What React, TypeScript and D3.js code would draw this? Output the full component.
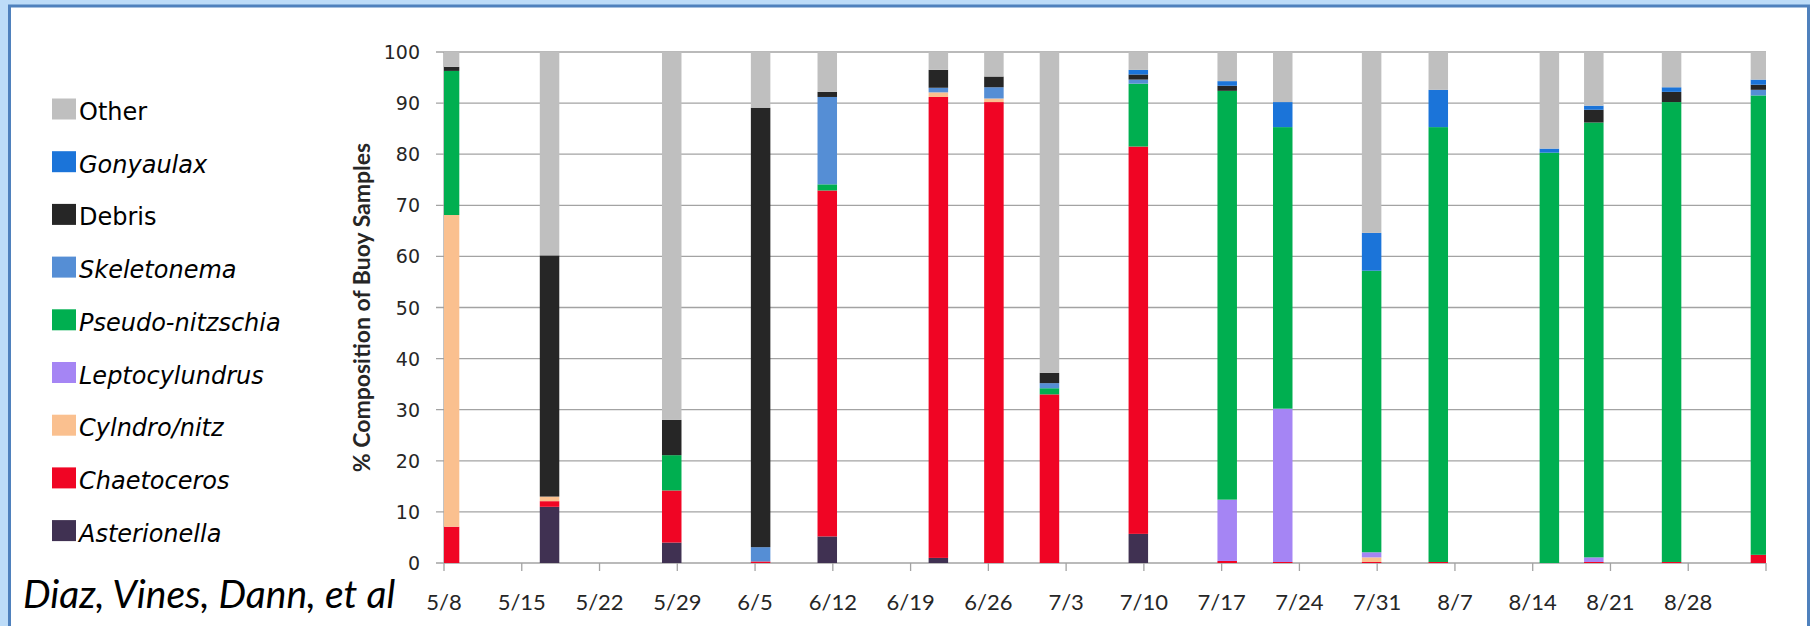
import React, { useEffect, useRef } from 'react';
import * as d3 from 'd3';

// ---- data ----
const sampleDates = ['5/8','5/17','5/28','6/5','6/11','6/21','6/26','7/1','7/9','7/17','7/22','7/30','8/5','8/15','8/19','8/26','9/3'];

const asterionella   = [0, 11, 4, 0, 5.2, 1, 0, 0, 5.7, 0, 0, 0, 0, 0, 0, 0, 0];
const chaetoceros    = [7.1, 1.1, 10.2, 0.3, 67.7, 90.2, 90.2, 33, 75.8, 0.4, 0.2, 0.2, 0.2, 0, 0.2, 0.2, 1.6];
const cylindroNitz   = [61, 0.9, 0, 0, 0, 0.9, 0.7, 0, 0, 0, 0, 0.9, 0, 0, 0, 0, 0];
const leptocylundrus = [0, 0, 0, 0, 0, 0, 0, 0, 0, 12.0, 30, 1.0, 0, 0, 0.9, 0, 0];
const pseudoNitzschia= [28.2, 0, 6.9, 0, 1.2, 0, 0, 1.2, 12.3, 80, 55.1, 55.1, 85.1, 80.3, 85.1, 90, 89.9];
const skeletonema    = [0, 0, 0, 2.8, 17.1, 0.9, 2.2, 1.0, 0.8, 0, 0, 0, 0, 0, 0, 0, 1.1];
const debris         = [0.8, 47.2, 6.9, 86, 1.0, 3.5, 2.1, 2.0, 1.0, 1.0, 0, 0, 0, 0, 2.5, 2.0, 1.0];
const gonyaulax      = [0, 0, 0, 0, 0, 0, 0, 0, 0.9, 0.9, 4.9, 7.4, 7.3, 0.8, 0.8, 0.9, 1.0];
const other          = [2.9, 39.8, 72, 10.9, 7.8, 3.5, 4.8, 62.8, 3.5, 5.7, 9.8, 35.4, 7.4, 18.9, 10.5, 6.9, 5.4];

const seriesNames = ['Asterionella','Chaetoceros','Cylndro/nitz','Leptocylundrus','Pseudo-nitzschia','Skeletonema','Debris','Gonyaulax','Other'];
const seriesValues = [asterionella, chaetoceros, cylindroNitz, leptocylundrus, pseudoNitzschia, skeletonema, debris, gonyaulax, other];
const seriesColors = ['#403152','#F00524','#FAC08F','#A585F4','#00AF50','#558ED5','#262626','#1B74D9','#BFBFBF'];
const italicSeries = [true, true, true, true, true, true, false, true, false];

const xTickLabels = ['5/8','5/15','5/22','5/29','6/5','6/12','6/19','6/26','7/3','7/10','7/17','7/24','7/31','8/7','8/14','8/21','8/28','9/4'];
const xLabelShown = xTickLabels.slice(0, 17);
const yTicks = [0, 10, 20, 30, 40, 50, 60, 70, 80, 90, 100];

const yearStr = '2012';
const parseD = d3.timeParse('%m/%d/%Y');
const toDate = (s: string) => parseD(s + '/' + yearStr) as Date;

export default function App() {
  const ref = useRef<SVGSVGElement | null>(null);

  useEffect(() => {
    const svg = d3.select(ref.current);
    svg.selectAll('*').remove();
    const W = 1810, H = 626;

    // frame
    svg.append('rect').attr('x', 0).attr('y', 0).attr('width', W).attr('height', H).attr('fill', '#BDDCF8');
    svg.append('rect').attr('x', 9.5).attr('y', 6).attr('width', 1799).attr('height', 700)
      .attr('fill', '#FFFFFF').attr('stroke', '#4F81BD').attr('stroke-width', 3);

    const left = 444, right = 1766, top = 52, bottom = 563;
    const x = d3.scaleTime().domain([toDate('5/8'), toDate('9/4')]).range([left, right]);
    const y = d3.scaleLinear().domain([0, 100]).range([bottom, top]);
    const dayPx = x(toDate('5/9')) - x(toDate('5/8'));
    const barW = 19.5;

    // gridlines
    const g = svg.append('g');
    g.selectAll('line.grid').data(yTicks).enter().append('line')
      .attr('x1', left - 8).attr('x2', right)
      .attr('y1', d => y(d)).attr('y2', d => y(d))
      .attr('stroke', '#A3A3A3').attr('stroke-width', 1.3);
    // y axis line
    g.append('line').attr('x1', left).attr('x2', left).attr('y1', y(100)).attr('y2', y(0))
      .attr('stroke', '#A3A3A3').attr('stroke-width', 1.3);

    // x axis ticks
    const tickDates = xTickLabels.map(toDate);
    g.selectAll('line.xt').data(tickDates).enter().append('line')
      .attr('x1', d => x(d)).attr('x2', d => x(d))
      .attr('y1', bottom).attr('y2', bottom + 8)
      .attr('stroke', '#A3A3A3').attr('stroke-width', 1.3);

    // bars
    const rows = sampleDates.map((d, i) => {
      const r: any = { date: toDate(d) };
      seriesNames.forEach((n, k) => { r[n] = seriesValues[k][i]; });
      return r;
    });
    const stack = d3.stack().keys(seriesNames);
    const layers = stack(rows);

    svg.append('clipPath').attr('id', 'plotclip').append('rect')
      .attr('x', left).attr('y', top - 5).attr('width', right - left).attr('height', bottom - top + 5);

    const barsG = svg.append('g').attr('clip-path', 'url(#plotclip)');
    layers.forEach((layer, k) => {
      barsG.append('g').attr('fill', seriesColors[k])
        .selectAll('rect').data(layer).enter().append('rect')
        .attr('x', (d: any) => x(d.data.date) + dayPx / 2 - barW / 2)
        .attr('width', barW)
        .attr('y', (d: any) => y(d[1]))
        .attr('height', (d: any) => Math.max(0, y(d[0]) - y(d[1])));
    });

    // y labels
    svg.append('g').selectAll('text').data(yTicks).enter().append('text')
      .attr('x', 420).attr('y', d => y(d))
      .attr('text-anchor', 'end').attr('dominant-baseline', 'central')
      .attr('font-family', 'DejaVu Sans').attr('font-size', 19).attr('fill', '#262626')
      .text(d => String(d));

    // x labels
    svg.append('g').selectAll('text').data(xLabelShown).enter().append('text')
      .attr('x', d => x(toDate(d))).attr('y', 610)
      .attr('text-anchor', 'middle')
      .attr('font-family', 'Lato').attr('font-size', 22).attr('fill', '#262626')
      .text(d => d);

    // y title
    svg.append('text')
      .attr('transform', `translate(361, ${(top + bottom) / 2}) rotate(-90)`)
      .attr('text-anchor', 'middle').attr('dominant-baseline', 'central')
      .attr('font-family', 'Lato').attr('font-weight', 'bold').attr('font-size', 23).attr('fill', '#262626')
      .text('% Composition of Buoy Samples');

    // legend
    const legendOrder = seriesNames.map((n, k) => k).reverse();
    const lg = svg.append('g');
    legendOrder.forEach((k, i) => {
      lg.append('rect').attr('x', 52).attr('y', 98.5 + 52.7 * i).attr('width', 24).attr('height', 21)
        .attr('fill', seriesColors[k]);
      lg.append('text').attr('x', 79).attr('y', 120 + 52.7 * i)
        .attr('font-family', 'DejaVu Sans').attr('font-size', 24)
        .attr('font-style', italicSeries[k] ? 'italic' : 'normal')
        .attr('fill', '#000').text(seriesNames[k]);
    });

    // credit
    svg.append('text').attr('x', 23).attr('y', 608)
      .attr('font-family', 'Lato').attr('font-style', 'italic').attr('font-size', 39).attr('fill', '#000')
      .text('Diaz, Vines, Dann, et al');
  }, []);

  return (
    <svg ref={ref} width={1810} height={626} style={{ position: 'absolute', left: 0, top: 0, display: 'block' }} />
  );
}
